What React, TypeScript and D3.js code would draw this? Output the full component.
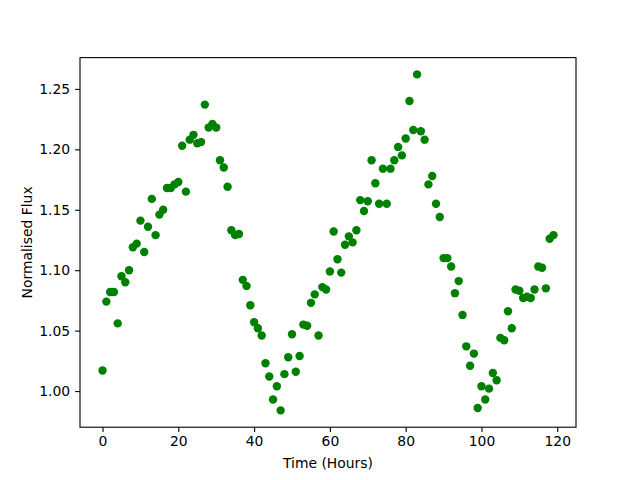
import React, { useRef, useEffect } from "react";
import * as d3 from "d3";

// hours since start, one reading per hour
const hours = d3.range(0, 120);

// normalised flux
const flux = [
    1.017, 1.074, 1.082, 1.082, 1.056, 1.095, 1.09, 1.1, 1.119, 1.122,
    1.141, 1.115, 1.136, 1.159, 1.129, 1.146, 1.15, 1.168, 1.168, 1.171,
    1.173, 1.203, 1.165, 1.208, 1.212, 1.205, 1.206, 1.237, 1.218, 1.221,
    1.218, 1.191, 1.185, 1.169, 1.133, 1.129, 1.13, 1.092, 1.087, 1.071,
    1.057, 1.052, 1.046, 1.023, 1.012, 0.993, 1.004, 0.984, 1.014, 1.028,
    1.047, 1.016, 1.029, 1.055, 1.054, 1.073, 1.08, 1.046, 1.086, 1.084,
    1.099, 1.132, 1.109, 1.098, 1.121, 1.128, 1.123, 1.133, 1.158, 1.149,
    1.157, 1.191, 1.172, 1.155, 1.184, 1.155, 1.184, 1.191, 1.202, 1.195,
    1.209, 1.24, 1.216, 1.262, 1.215, 1.208, 1.171, 1.178, 1.155, 1.144,
    1.11, 1.11, 1.103, 1.081, 1.091, 1.063, 1.037, 1.021, 1.031, 0.986,
    1.004, 0.993, 1.002, 1.015, 1.009, 1.044, 1.042, 1.066, 1.052, 1.084,
    1.083, 1.077, 1.078, 1.077, 1.084, 1.103, 1.102, 1.085, 1.126, 1.129,
];

const xTicks = [0, 20, 40, 60, 80, 100, 120];
const yTicks = [1.0, 1.05, 1.1, 1.15, 1.2, 1.25];

const FluxPlot = () => {
    const svgRef = useRef(null);

    useEffect(() => {
        const width = 640;
        const height = 480;
        const margin = { top: 57.6, right: 64, bottom: 52.8, left: 80 };
        const font = "DejaVu Sans, sans-serif";

        const svg = d3.select(svgRef.current).attr("width", width).attr("height", height);
        svg.selectAll("*").remove();

        const pad = (lo: number, hi: number) => {
            const m = (hi - lo) * 0.05;
            return [lo - m, hi + m];
        };

        const x = d3
            .scaleLinear()
            .domain(pad(d3.min(hours)!, d3.max(hours)!))
            .range([margin.left, width - margin.right]);
        const y = d3
            .scaleLinear()
            .domain(pad(d3.min(flux)!, d3.max(flux)!))
            .range([height - margin.bottom, margin.top]);

        svg.append("rect").attr("width", width).attr("height", height).attr("fill", "white");

        // points
        svg.append("g")
            .selectAll("circle")
            .data(hours)
            .enter()
            .append("circle")
            .attr("cx", (d: number) => x(d))
            .attr("cy", (d: number, i: number) => y(flux[i]))
            .attr("r", 4.2)
            .attr("fill", "#008000");

        // frame
        svg.append("rect")
            .attr("x", margin.left)
            .attr("y", margin.top)
            .attr("width", width - margin.left - margin.right)
            .attr("height", height - margin.top - margin.bottom)
            .attr("fill", "none")
            .attr("stroke", "black")
            .attr("stroke-width", 1.1);

        const xAxis = d3
            .axisBottom(x)
            .tickValues(xTicks)
            .tickSize(4.9)
            .tickPadding(4.5)
            .tickFormat(d3.format("d"));
        const gx = svg
            .append("g")
            .attr("transform", `translate(0,${height - margin.bottom})`)
            .call(xAxis);
        gx.select(".domain").remove();
        gx.selectAll("line").attr("stroke-width", 1.1);
        gx.selectAll("text").attr("font-size", 13.9).attr("font-family", font).attr("fill", "black");

        const yAxis = d3
            .axisLeft(y)
            .tickValues(yTicks)
            .tickSize(4.9)
            .tickPadding(4.9)
            .tickFormat(d3.format(".2f"));
        const gy = svg.append("g").attr("transform", `translate(${margin.left},0)`).call(yAxis);
        gy.select(".domain").remove();
        gy.selectAll("line").attr("stroke-width", 1.1);
        gy.selectAll("text").attr("font-size", 13.9).attr("font-family", font).attr("fill", "black");

        svg.append("text")
            .attr("x", (margin.left + width - margin.right) / 2)
            .attr("y", 468)
            .attr("text-anchor", "middle")
            .attr("font-size", 13.9)
            .attr("font-family", font)
            .text("Time (Hours)");

        svg.append("text")
            .attr("transform", `translate(31.5,${(margin.top + height - margin.bottom) / 2}) rotate(-90)`)
            .attr("text-anchor", "middle")
            .attr("font-size", 13.9)
            .attr("font-family", font)
            .text("Normalised Flux");
    }, []);

    return <svg ref={svgRef} style={{ position: "absolute", left: 0, top: 0 }}></svg>;
};

export default function App() {
    return <FluxPlot />;
}
